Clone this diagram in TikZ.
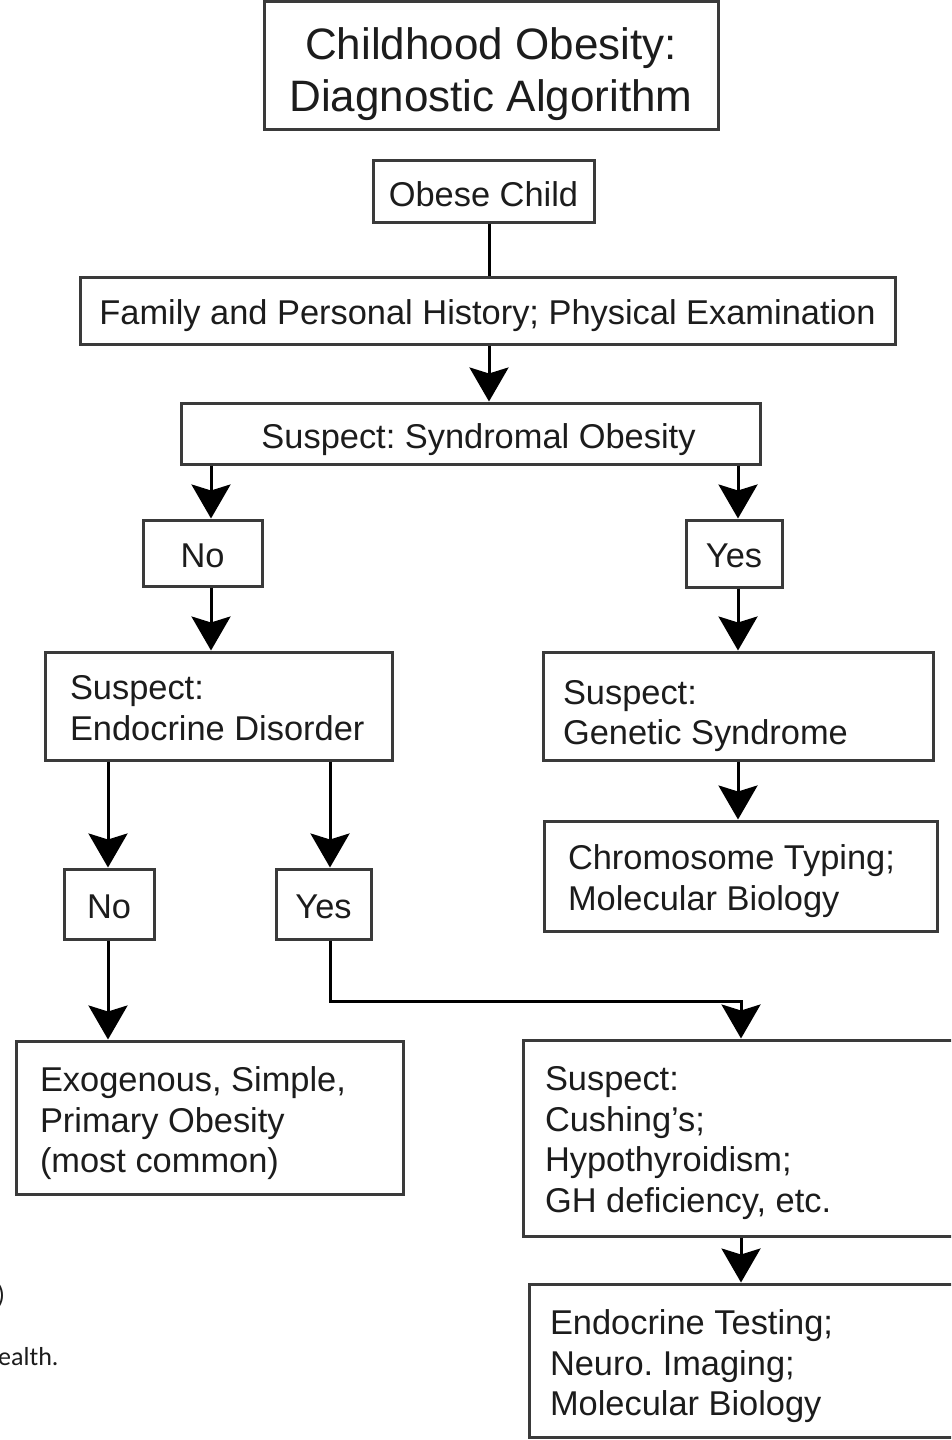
\documentclass[tikz,border=0pt]{standalone}
\usepackage{fontspec}
\setmainfont{Liberation Sans}
\newfontfamily\fragfont{Carlito}
\usetikzlibrary{arrows.meta}
\definecolor{boxline}{HTML}{3A3A3A}
\definecolor{txt}{HTML}{1C1C1C}
\frenchspacing
% lower a text by #1 without changing its reported size
\newcommand\dn[2]{\raisebox{-#1}[\height][\depth]{#2}}
\newcommand\lines[2]{\parbox[t]{#1}{\raggedright #2}}
\tikzset{
  box/.style={draw=boxline, line width=3pt, inner sep=0pt, text=txt,
    font=\fontsize{34.4}{40.5}\selectfont},
  arr/.style={draw=black, line width=3pt,
    -{Stealth[length=34pt, width=39pt, inset=6pt]}},
  conn/.style={draw=black, line width=3pt},
  frag/.style={font=\fragfont\fontsize{26}{30}\selectfont, text=txt, inner sep=0pt, anchor=west}
}
\begin{document}
\begin{tikzpicture}[x=1pt,y=-1pt]
\useasboundingbox (0,0) rectangle (951,1440);
\clip (0,0) rectangle (951,1440);
\fill[white] (0,0) rectangle (951,1440);

% boxes
\node[box, minimum width=454pt, minimum height=128pt,
      font=\fontsize{44}{52}\selectfont] (title) at (491,65)
  {\dn{9pt}{\parbox[t]{454pt}{\centering Childhood Obesity:\\Diagnostic Algorithm}}};
\node[box, minimum width=221pt, minimum height=62pt] (obese) at (483.5,191)
  {\dn{3pt}{Obese Child}};
\node[box, minimum width=815pt, minimum height=67pt] (family) at (487.5,310.5)
  {\dn{5pt}{Family and Personal History; Physical Examination}};
\node[box, minimum width=579pt, minimum height=61pt] (synd) at (470.5,433.5)
  {\dn{6pt}{\hspace*{16pt}Suspect: Syndromal Obesity}};
\node[box, minimum width=119pt, minimum height=66pt] (no1) at (202.5,553) {\dn{3pt}{No}};
\node[box, minimum width=96pt, minimum height=67pt] (yes1) at (734,553.5) {\dn{2pt}{Yes}};
\node[box, inner xsep=25pt, minimum width=347pt, minimum height=108pt] (endo) at (218.5,706)
  {\dn{2pt}{\lines{297pt}{Suspect:\\Endocrine Disorder}}};
\node[box, inner xsep=20pt, minimum width=390pt, minimum height=108pt] (gen) at (738,706)
  {\dn{10pt}{\lines{350pt}{Suspect:\\Genetic Syndrome}}};
\node[box, inner xsep=24pt, minimum width=393pt, minimum height=110pt] (chrom) at (740.5,876)
  {\dn{5pt}{\lines{345pt}{Chromosome Typing;\\Molecular Biology}}};
\node[box, minimum width=90pt, minimum height=70pt] (no2) at (109,904) {\dn{3pt}{No}};
\node[box, minimum width=95pt, minimum height=70pt] (yes2) at (323.5,904) {\dn{3pt}{Yes}};
\node[box, inner xsep=24pt, minimum width=387pt, minimum height=153pt] (exo) at (209.5,1117.5)
  {\dn{6pt}{\lines{339pt}{Exogenous, Simple,\\Primary Obesity\\(most common)}}};
\node[box, inner xsep=22pt, minimum width=452pt, minimum height=196pt] (cush) at (749,1138)
  {\dn{5pt}{\lines{408pt}{Suspect:\\Cushing’s;\\Hypothyroidism;\\GH deficiency, etc.}}};
\node[box, inner xsep=21pt, minimum width=446pt, minimum height=153pt] (test) at (752,1360.5)
  {\dn{6pt}{\lines{404pt}{Endocrine Testing;\\Neuro. Imaging;\\Molecular Biology}}};

% cut-off text fragments at left edge
\node[frag] (f1) at (-3,1296) {)};
\node[frag] (f2) at (-2,1357) {ealth.};

% connector lanes
\coordinate (xa) at (489,0);
\coordinate (xb) at (211,0);
\coordinate (xc) at (738,0);
\coordinate (xd) at (108,0);
\coordinate (xe) at (330,0);
\coordinate (xf) at (741,0);
\coordinate (turn) at (330,1001);

\draw[conn] (xa |- obese.south) -- (xa |- family.north);
\draw[arr] (xa |- family.south) -- (xa |- synd.north);
\draw[arr] (xb |- synd.south) -- (xb |- no1.north);
\draw[arr] (xc |- synd.south) -- (xc |- yes1.north);
\draw[arr] (xb |- no1.south) -- (xb |- endo.north);
\draw[arr] (xc |- yes1.south) -- (xc |- gen.north);
\draw[arr] (xc |- gen.south) -- (xc |- chrom.north);
\draw[arr] (xd |- endo.south) -- (xd |- no2.north);
\draw[arr] (xe |- endo.south) -- (xe |- yes2.north);
\draw[arr] (xd |- no2.south) -- (xd |- exo.north);
\draw[arr] (xe |- yes2.south) -- (turn) -| (xf |- cush.north);
\draw[arr] (xf |- cush.south) -- (xf |- test.north);
\end{tikzpicture}
\end{document}
